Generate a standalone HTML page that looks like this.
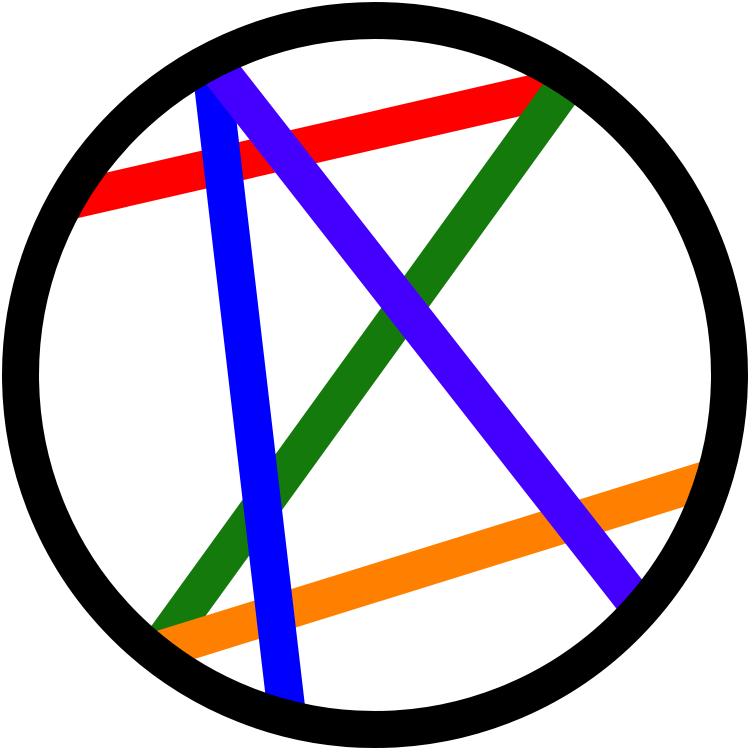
<!DOCTYPE html>
<html>
<head>
<meta charset="utf-8">
<style>
  html, body { margin: 0; padding: 0; background: #fff; width: 750px; height: 750px; overflow: hidden; }
  svg { display: block; }
</style>
</head>
<body>
<svg id="chart" width="750" height="750" viewBox="0 0 750 750" xmlns="http://www.w3.org/2000/svg">
  <defs>
    <clipPath id="inner-clip">
      <circle cx="375" cy="375" r="337"/>
    </clipPath>
  </defs>
  <rect x="0" y="0" width="750" height="750" fill="#ffffff"/>
  <g id="chords" clip-path="url(#inner-clip)"></g>
  <circle cx="375" cy="375" r="354.5" fill="none" stroke="#000000" stroke-width="37"/>
</svg>
<script>
const lineNames = ['red-chord', 'green-chord', 'blue-chord', 'purple-chord', 'orange-chord'];
const lineColors = ['#ff0000', '#137a0b', '#0000ff', '#4400ff', '#ff8000'];
const startX = [111, 453, 214, 220, 169];
const startY = [191, 241, 92, 71, 647];
const endX = [519, 552, 284, 335, 526];
const endY = [97, 104, 690, 218, 536];
const drawOrder = [0, 1, 4, 2, 3];

const g = document.getElementById('chords');
const NS = 'http://www.w3.org/2000/svg';
const cx = 375, cy = 375, R = 350;
for (const i of drawOrder) {
  const dx = endX[i] - startX[i], dy = endY[i] - startY[i];
  const len = Math.hypot(dx, dy);
  const ux = dx / len, uy = dy / len;
  // intersect line with circle of radius R
  const fx = startX[i] - cx, fy = startY[i] - cy;
  const b = fx * ux + fy * uy;
  const c = fx * fx + fy * fy - R * R;
  const disc = Math.sqrt(Math.max(0, b * b - c));
  const t1 = -b - disc, t2 = -b + disc;
  const ln = document.createElementNS(NS, 'line');
  ln.setAttribute('x1', startX[i] + ux * t1);
  ln.setAttribute('y1', startY[i] + uy * t1);
  ln.setAttribute('x2', startX[i] + ux * t2);
  ln.setAttribute('y2', startY[i] + uy * t2);
  ln.setAttribute('stroke', lineColors[i]);
  ln.setAttribute('stroke-width', '38');
  
  
  g.appendChild(ln);
}
</script>
</body>
</html>
